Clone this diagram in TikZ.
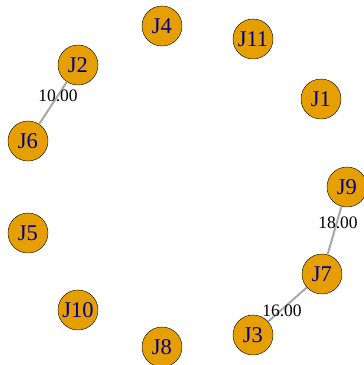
\documentclass[tikz,border=0pt]{standalone}
\usepackage{fontspec}
\setmainfont{Liberation Serif}
\usepackage{tikz}
\definecolor{jorange}{HTML}{E69F00}
\definecolor{jblue}{HTML}{00008B}
\definecolor{jgray}{HTML}{A8A8A8}

\begin{document}
\begin{tikzpicture}[x=1bp, y=-1bp]
    \tikzstyle{node_style} = [circle,draw=black,fill=jorange,text=jblue,minimum size=40bp,inner sep=0pt,font=\fontsize{22.5bp}{22.5bp}\selectfont]
    \tikzstyle{edge_style} = [draw=jgray, line width=2bp]
    \tikzstyle{weight_style} = [text=black,inner sep=1pt,font=\fontsize{17.5bp}{17.5bp}\selectfont]
    \useasboundingbox (0,0) rectangle (364,365);
    \node[node_style] (j4) at (162,26) {J4};
    \node[node_style] (j11) at (253,39) {J11};
    \node[node_style] (j2) at (78,65) {J2};
    \node[node_style] (j1) at (321,99) {J1};
    \node[node_style] (j6) at (28,141) {J6};
    \node[node_style] (j9) at (347,187) {J9};
    \node[node_style] (j5) at (28,233) {J5};
    \node[node_style] (j7) at (322,274) {J7};
    \node[node_style] (j10) at (78,310) {J10};
    \node[node_style] (j3) at (253,335) {J3};
    \node[node_style] (j8) at (162,347) {J8};

    \draw[edge_style]  (j2) edge (j6);
    \draw[edge_style]  (j9) edge (j7);
    \draw[edge_style]  (j7) edge (j3);

    \node[weight_style] (w26) at (58,96) {10.00};
    \node[weight_style] (w97) at (338,223) {18.00};
    \node[weight_style] (w73) at (282,311) {16.00};
\end{tikzpicture}
\end{document}
